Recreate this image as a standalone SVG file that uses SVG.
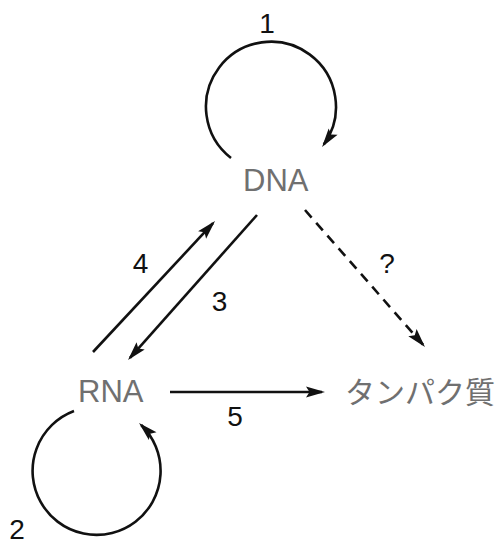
<svg xmlns="http://www.w3.org/2000/svg" width="500" height="544" viewBox="0 0 500 544">
<defs>
<style>
.edge{fill:none;stroke:#111;stroke-width:2.6}
.dash{stroke-dasharray:10 7}
.node{font-family:"Liberation Sans",Arial,sans-serif;font-size:31px;fill:#707070}
.jp{font-family:"Liberation Sans","Noto Sans CJK JP",sans-serif;font-size:30px;fill:#707070}
.num{font-family:"Liberation Sans",Arial,sans-serif;font-size:28px;fill:#111;text-anchor:middle}
</style>
<marker id="ah" markerUnits="userSpaceOnUse" markerWidth="20" markerHeight="12" refX="16" refY="5.5" orient="auto" overflow="visible">
<path d="M0,0 L19,5.5 L0,11 L3.5,5.5 z" fill="#111"/>
</marker>
</defs>
<rect width="500" height="544" fill="#fff"/>
<g id="connectors">
<path id="e1" class="edge" d="M231,158 A65,65 0 1 1 323.8,144.6" marker-end="url(#ah)"/>
<path id="e2" class="edge" d="M74,411 A64,64 0 1 0 141.2,425" marker-end="url(#ah)"/>
<path id="e4" class="edge" d="M93,352 L213,223.2" marker-end="url(#ah)"/>
<path id="e3" class="edge" d="M257,215 L130,357.8" marker-end="url(#ah)"/>
<path id="e5" class="edge" d="M170,392 L322,392" marker-end="url(#ah)"/>
<path id="eq" class="edge dash" d="M305,210 L423,344.7" marker-end="url(#ah)"/>
<text class="num" x="267" y="33">1</text>
<text class="num" x="17" y="539">2</text>
<text class="num" x="219.5" y="311">3</text>
<text class="num" x="140.5" y="273">4</text>
<text class="num" x="235" y="426">5</text>
<text class="num" x="387" y="273">?</text>
</g>
<g id="dna"><text class="node" x="243" y="191">DNA</text></g>
<g id="rna"><text class="node" x="78" y="402">RNA</text></g>
<g id="protein"><text class="jp" x="345" y="403">タンパク質</text></g>
</svg>
